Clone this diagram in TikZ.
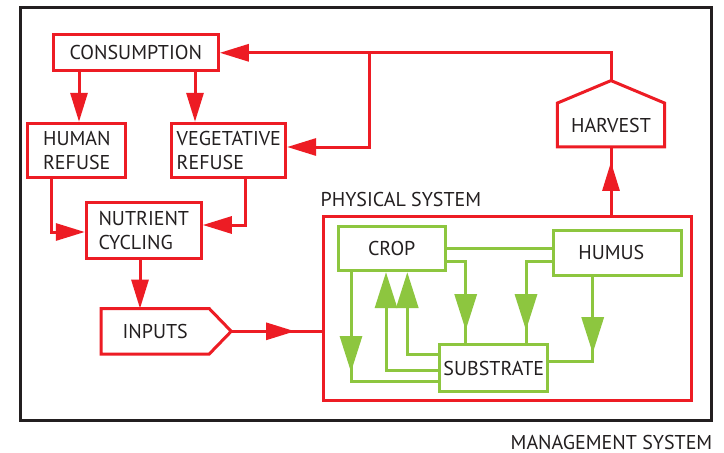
\documentclass[tikz,border=0pt]{standalone}
\usepackage{fontspec}
\setmainfont{PT Sans}
\usetikzlibrary{arrows.meta,calc}
\definecolor{ared}{HTML}{ED1C24}
\definecolor{agreen}{HTML}{8DC63F}
\definecolor{ink}{HTML}{231F20}

\begin{document}
\begin{tikzpicture}[x=1pt,y=-1pt,
  lbl/.style={font=\fontsize{20}{24.5}\selectfont, text=ink},
  redbox/.style={draw=ared, line width=3pt, inner sep=0pt, lbl, align=left},
  greenbox/.style={draw=agreen, line width=3pt, inner sep=0pt, lbl},
  plainbox/.style={inner sep=0pt, lbl},
  redline/.style={draw=ared, line width=3pt},
  redarrow/.style={redline, -{Triangle[length=29pt,width=17pt]}},
  greenline/.style={draw=agreen, line width=3pt},
  greenarrow/.style={greenline, -{Triangle[length=36pt,width=22pt]}},
]
\fill[white] (0,0) rectangle (724,453);
\useasboundingbox (0,0) rectangle (724,453);

% management system frame
\node[draw=ink, line width=3pt, minimum width=691pt, minimum height=412.7pt] (management) at (365.5,213.65) {};
\node[lbl, anchor=base east, inner sep=0pt, text depth=0pt] (management-label) at ($(management.south east)+(0,28.3)$) {MANAGEMENT SYSTEM};

% social side
\node[redbox, minimum width=165pt, minimum height=35.7pt] (consumption) at (135.8,52.8) {CONSUMPTION};
\node[redbox, minimum width=97.7pt, minimum height=54.4pt] (human) at (76.8,150.5) {HUMAN\\REFUSE};
\node[redbox, minimum width=113.7pt, minimum height=54.4pt] (vegetative) at (228.8,150.5) {VEGETATIVE\\REFUSE};
\node[redbox, minimum width=115pt, minimum height=55.5pt] (nutrient) at (143.8,230.5) {NUTRIENT\\CYCLING};

% inputs (pointed box)
\node[plainbox, minimum width=107.7pt, minimum height=45pt] (inputs) at (155.2,331.3) {INPUTS};
\coordinate (inputs-tip) at ($(inputs.east)+(22,0)$);
\draw[redline] (inputs.north west) -- (inputs.north east) -- (inputs-tip) -- (inputs.south east) -- (inputs.south west) -- cycle;

% harvest (house shape)
\node[plainbox, minimum width=107pt, minimum height=43.4pt] (harvest) at (611,125) {HARVEST};
\coordinate (harvest-top) at ($(harvest.north)+(0,-22.5)$);
\draw[redline] (harvest.south west) -- (harvest.north west) -- (harvest-top) -- (harvest.north east) -- (harvest.south east) -- cycle;

% physical system
\node[draw=ared, line width=3pt, minimum width=368.3pt, minimum height=184.4pt] (physical) at (507.15,308.5) {};
\node[lbl, anchor=base west, inner sep=0pt] (physical-label) at ($(physical.north west)+(-1,-8)$) {PHYSICAL SYSTEM};

\node[greenbox, minimum width=107.3pt, minimum height=44.4pt] (crop) at (391.7,248.5) {CROP};
\node[greenbox, minimum width=128pt, minimum height=45.3pt] (humus) at (617.3,252.7) {\hspace*{-12pt}HUMUS};
\node[greenbox, minimum width=108.3pt, minimum height=46.6pt] (substrate) at (493.8,368) {SUBSTRATE};

% red flows
\draw[redarrow] (harvest-top) |- (consumption.east);
\coordinate (split) at (369.3,0 |- consumption.east);
\coordinate (k-veg) at (369.3,147);
\draw[redarrow] (split) -- (k-veg) -- (k-veg -| vegetative.east);
\draw[redarrow] (79,0 |- consumption.south) -- (79,0 |- human.north);
\draw[redarrow] (195,0 |- consumption.south) -- (195,0 |- vegetative.north);
\coordinate (k-hum) at (51.3,232);
\draw[redarrow] (k-hum |- human.south) -- (k-hum) -- (k-hum -| nutrient.west);
\coordinate (k-vn) at (245,225);
\draw[redarrow] (k-vn |- vegetative.south) -- (k-vn) -- (k-vn -| nutrient.east);
\draw[redarrow] (140,0 |- nutrient.south) -- (140,0 |- inputs.north);
\coordinate (in-head) at (295,0 |- inputs-tip);
\draw[redline] (inputs-tip) -- (inputs-tip -| physical.west);
\draw[redarrow] (inputs-tip) -- (in-head);
\coordinate (hv-head) at ($(harvest.south)+(0,15)$);
\draw[redline] (harvest.south |- physical.north) -- (harvest.south);
\draw[redarrow] (harvest.south |- physical.north) -- (hv-head);

% green flows
\coordinate (k1) at (465.7,261.7);
\coordinate (k2) at (526,261.7);
\coordinate (k3) at (592.7,361.7);
\coordinate (k4) at (351,381);
\coordinate (k5) at (386,370);
\coordinate (k6) at (407.3,354.3);

\draw[greenline] (crop.east) -- (crop.east -| humus.west);

\draw[greenline] (crop.east |- k1) -- (k1) -- (k1 |- substrate.north);
\draw[greenarrow] (k1) -- ($(k1 |- substrate.north)+(0,-13)$);

\draw[greenline] (humus.west |- k2) -- (k2) -- (k2 |- substrate.north);
\draw[greenarrow] (k2) -- ($(k2 |- substrate.north)+(0,-13)$);

\draw[greenline] (k3 |- humus.south) -- (k3) -- (k3 -| substrate.east);
\draw[greenarrow] (k3 |- humus.south) -- ($(k3)+(0,-8.5)$);

\draw[greenline] (k4 |- crop.south) -- (k4) -- (k4 -| substrate.west);
\draw[greenarrow] (k4 |- crop.south) -- ($(k4)+(0,-9)$);

\draw[greenarrow] (k5 -| substrate.west) -- (k5) -- (k5 |- crop.south);
\draw[greenarrow] (k6 -| substrate.west) -- (k6) -- (k6 |- crop.south);
\end{tikzpicture}
\end{document}
